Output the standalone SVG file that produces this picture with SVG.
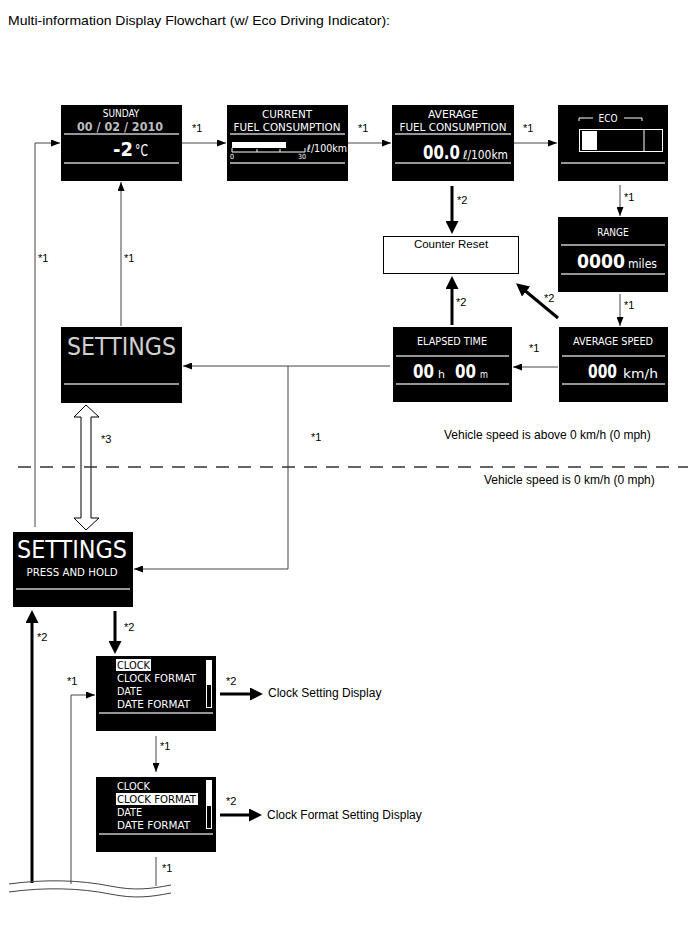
<svg xmlns="http://www.w3.org/2000/svg" width="688" height="949" viewBox="0 0 688 949">
<style>
.lbl{font-family:"Liberation Sans",Arial,sans-serif;font-size:11px;fill:#000}
.txt{font-family:"Liberation Sans",Arial,sans-serif;font-size:12px;fill:#000}
.scr{fill:#000}
.sep{stroke:#c8c8c8;stroke-width:1.5}
.lcd{font-family:"DejaVu Sans Condensed","DejaVu Sans",sans-serif;font-stretch:condensed;fill:#fff}
.thin{fill:none;stroke:#444;stroke-width:1}
.thick{fill:none;stroke:#000;stroke-width:3}
</style>
<defs>
<marker id="a" markerWidth="9" markerHeight="7" refX="9" refY="3.5" orient="auto" markerUnits="userSpaceOnUse"><path d="M0,0 L9,3.5 L0,7 z" fill="#000"/></marker>
<marker id="b" markerWidth="13" markerHeight="13" refX="4" refY="6.5" orient="auto" markerUnits="userSpaceOnUse"><path d="M0,0 L13,6.5 L0,13 z" fill="#000"/></marker>
</defs>
<rect width="688" height="949" fill="#fff"/>
<text class="txt" x="8" y="25" style="font-size:13px" textLength="382" lengthAdjust="spacingAndGlyphs">Multi-information Display Flowchart (w/ Eco Driving Indicator):</text>

<g id="screen-date">
<rect class="scr" x="61" y="105" width="121" height="76"/>
<line class="sep" x1="64" y1="134" x2="179" y2="134"/>
<line class="sep" x1="64" y1="163" x2="179" y2="163"/>
<text class="lcd" x="121" y="117" font-size="10" text-anchor="middle">SUNDAY</text>
<text class="lcd" x="77" y="131" font-size="13" font-weight="bold" style="fill:#bdbdbd" textLength="86" lengthAdjust="spacingAndGlyphs">00 / 02 / 2010</text>
<text class="lcd" x="113" y="156" font-size="20" font-weight="bold" textLength="20" lengthAdjust="spacingAndGlyphs">-2</text>
<text class="lcd" x="135" y="156" font-size="15" textLength="13" lengthAdjust="spacingAndGlyphs">°C</text>
</g>

<g id="screen-current">
<rect class="scr" x="227" y="105" width="121" height="76"/>
<line class="sep" x1="230" y1="134" x2="345" y2="134"/>
<line class="sep" x1="230" y1="163" x2="345" y2="163"/>
<text class="lcd" x="287" y="118" font-size="11" text-anchor="middle" textLength="50" lengthAdjust="spacingAndGlyphs">CURRENT</text>
<text class="lcd" x="287" y="131" font-size="11" text-anchor="middle" textLength="107" lengthAdjust="spacingAndGlyphs">FUEL CONSUMPTION</text>
<rect x="232" y="142" width="54" height="6" fill="#fff"/>
<path d="M232,148 V152 H305 M257,149 V152 M280,149 V152 M305,148 V152" stroke="#fff" stroke-width="1" fill="none"/>
<text class="lcd" x="230" y="159" font-size="7">0</text>
<text class="lcd" x="298" y="159" font-size="7">30</text>
<text class="lcd" x="307" y="152" font-size="10" textLength="40" lengthAdjust="spacingAndGlyphs">ℓ/100km</text>
</g>

<g id="screen-average-fuel">
<rect class="scr" x="392" y="105" width="122" height="76"/>
<line class="sep" x1="395" y1="134" x2="511" y2="134"/>
<line class="sep" x1="395" y1="163" x2="511" y2="163"/>
<text class="lcd" x="453" y="118" font-size="11" text-anchor="middle" textLength="50" lengthAdjust="spacingAndGlyphs">AVERAGE</text>
<text class="lcd" x="453" y="131" font-size="11" text-anchor="middle" textLength="107" lengthAdjust="spacingAndGlyphs">FUEL CONSUMPTION</text>
<text class="lcd" x="423" y="159" font-size="20" font-weight="bold" textLength="37" lengthAdjust="spacingAndGlyphs">00.0</text>
<text class="lcd" x="463" y="159" font-size="12" textLength="45" lengthAdjust="spacingAndGlyphs">ℓ/100km</text>
</g>

<g id="screen-eco">
<rect class="scr" x="558" y="105" width="110" height="76"/>
<line class="sep" x1="561" y1="163" x2="665" y2="163"/>
<path d="M579,121 V118 H593 M624,118 H642 V121" stroke="#fff" stroke-width="1" fill="none"/>
<text class="lcd" x="608" y="122" font-size="10" text-anchor="middle">ECO</text>
<rect x="579.5" y="129.5" width="83" height="22" fill="none" stroke="#fff" stroke-width="1"/>
<rect x="582" y="131" width="15" height="19" fill="#fff"/>
<line x1="644" y1="130" x2="644" y2="151" stroke="#fff" stroke-width="1"/>
</g>

<g id="screen-range">
<rect class="scr" x="558" y="217" width="110" height="75"/>
<line class="sep" x1="561" y1="245" x2="665" y2="245"/>
<line class="sep" x1="561" y1="274" x2="665" y2="274"/>
<text class="lcd" x="613" y="236" font-size="10" text-anchor="middle">RANGE</text>
<text class="lcd" x="577" y="268" font-size="20" font-weight="bold" textLength="48" lengthAdjust="spacingAndGlyphs">0000</text>
<text class="lcd" x="628" y="268" font-size="12" textLength="29" lengthAdjust="spacingAndGlyphs">miles</text>
</g>

<g id="counter-reset">
<rect x="383.5" y="236.5" width="135" height="37" fill="#fff" stroke="#000" stroke-width="1"/>
<text class="txt" x="451" y="248" text-anchor="middle" style="font-size:11.5px">Counter Reset</text>
</g>

<g id="screen-elapsed">
<rect class="scr" x="393" y="327" width="119" height="75"/>
<line class="sep" x1="396" y1="356" x2="509" y2="356"/>
<line class="sep" x1="396" y1="384" x2="509" y2="384"/>
<text class="lcd" x="452" y="345" font-size="10.5" text-anchor="middle" textLength="70" lengthAdjust="spacingAndGlyphs">ELAPSED TIME</text>
<text class="lcd" x="413" y="378" font-size="20" font-weight="bold" textLength="21" lengthAdjust="spacingAndGlyphs">00</text>
<text class="lcd" x="438" y="378" font-size="11" textLength="7" lengthAdjust="spacingAndGlyphs">h</text>
<text class="lcd" x="455" y="378" font-size="20" font-weight="bold" textLength="21" lengthAdjust="spacingAndGlyphs">00</text>
<text class="lcd" x="480" y="378" font-size="11" textLength="8" lengthAdjust="spacingAndGlyphs">m</text>
</g>

<g id="screen-average-speed">
<rect class="scr" x="559" y="327" width="109" height="75"/>
<line class="sep" x1="562" y1="356" x2="665" y2="356"/>
<line class="sep" x1="562" y1="384" x2="665" y2="384"/>
<text class="lcd" x="613" y="345" font-size="10.5" text-anchor="middle" textLength="80" lengthAdjust="spacingAndGlyphs">AVERAGE SPEED</text>
<text class="lcd" x="588" y="378" font-size="20" font-weight="bold" textLength="29" lengthAdjust="spacingAndGlyphs">000</text>
<text class="lcd" x="623" y="378" font-size="12" textLength="35" lengthAdjust="spacingAndGlyphs">km/h</text>
</g>

<g id="screen-settings">
<rect class="scr" x="61" y="327" width="121" height="76"/>
<line class="sep" x1="64" y1="384" x2="179" y2="384"/>
<text class="lcd" x="67" y="355" font-size="24" style="fill:#d0d0d0" textLength="109" lengthAdjust="spacingAndGlyphs">SETTINGS</text>
</g>

<g id="screen-settings-hold">
<rect class="scr" x="13" y="532" width="120" height="75"/>
<line class="sep" x1="16" y1="589" x2="130" y2="589"/>
<text class="lcd" x="17" y="558" font-size="24" textLength="110" lengthAdjust="spacingAndGlyphs">SETTINGS</text>
<text class="lcd" x="72" y="576" font-size="10" text-anchor="middle" textLength="91" lengthAdjust="spacingAndGlyphs">PRESS AND HOLD</text>
</g>

<g id="list-clock">
<rect class="scr" x="96" y="656" width="120" height="75"/>
<line class="sep" x1="99" y1="713" x2="213" y2="713"/>
<rect x="116.5" y="659.5" width="34" height="11" fill="#fff" stroke="#fff"/>
<text class="lcd" x="117" y="669" font-size="11" style="fill:#000" textLength="33" lengthAdjust="spacingAndGlyphs">CLOCK</text>
<text class="lcd" x="117" y="682" font-size="11" textLength="79" lengthAdjust="spacingAndGlyphs">CLOCK FORMAT</text>
<text class="lcd" x="117" y="695" font-size="11" textLength="25" lengthAdjust="spacingAndGlyphs">DATE</text>
<text class="lcd" x="117" y="708" font-size="11" textLength="73" lengthAdjust="spacingAndGlyphs">DATE FORMAT</text>
<rect x="207" y="661" width="4" height="24" fill="#fff"/>
<rect x="206.5" y="660.5" width="5" height="47" fill="none" stroke="#fff" stroke-width="1"/>
</g>

<g id="list-clock-format">
<rect class="scr" x="96" y="777" width="120" height="75"/>
<line class="sep" x1="99" y1="834" x2="213" y2="834"/>
<text class="lcd" x="117" y="790" font-size="11" textLength="33" lengthAdjust="spacingAndGlyphs">CLOCK</text>
<rect x="116.5" y="793.5" width="81" height="11" fill="#fff" stroke="#fff"/>
<text class="lcd" x="117" y="803" font-size="11" style="fill:#000" textLength="79" lengthAdjust="spacingAndGlyphs">CLOCK FORMAT</text>
<text class="lcd" x="117" y="816" font-size="11" textLength="25" lengthAdjust="spacingAndGlyphs">DATE</text>
<text class="lcd" x="117" y="829" font-size="11" textLength="73" lengthAdjust="spacingAndGlyphs">DATE FORMAT</text>
<rect x="207" y="781" width="4" height="25" fill="#fff"/>
<rect x="206.5" y="780.5" width="5" height="48" fill="none" stroke="#fff" stroke-width="1"/>
</g>

<g id="connectors">
<path class="thin" d="M182,143 H226" marker-end="url(#a)"/>
<path class="thin" d="M348,143 H391" marker-end="url(#a)"/>
<path class="thin" d="M514,143 H557" marker-end="url(#a)"/>
<path class="thin" d="M620,185 V216" marker-end="url(#a)"/>
<path class="thin" d="M620,294 V326" marker-end="url(#a)"/>
<path class="thin" d="M558,367 H513" marker-end="url(#a)"/>
<path class="thin" d="M390,366 H183" marker-end="url(#a)"/>
<path class="thin" d="M288,366 V569 H134" marker-end="url(#a)"/>
<path class="thin" d="M121,326 V182" marker-end="url(#a)"/>
<path class="thin" d="M35,527 V143 H60" marker-end="url(#a)"/>
<path class="thin" d="M71,884 V695 H95" marker-end="url(#a)"/>
<path class="thin" d="M156,736 V772" marker-end="url(#a)"/>
<path class="thin" d="M156,857 V886"/>
<path class="thick" d="M452,186 V225" marker-end="url(#b)"/>
<path class="thick" d="M452,325 V285" marker-end="url(#b)"/>
<path class="thick" d="M558,318 L523,289" marker-end="url(#b)"/>
<path class="thick" d="M32,883 V619" marker-end="url(#b)"/>
<path class="thick" d="M115,611 V645" marker-end="url(#b)"/>
<path class="thick" d="M220,694 H254" marker-end="url(#b)"/>
<path class="thick" d="M220,815 H253" marker-end="url(#b)"/>
<polygon points="86,405 99,417 91,417 91,518 99,518 86,530 74,518 81,518 81,417 74,417" fill="#fff" stroke="#000" stroke-width="1"/>
<path d="M18,467 H688" stroke="#333" stroke-width="1.5" stroke-dasharray="13 9" fill="none"/>
<path d="M9,884 C45,879 80,880 110,886 C135,891 150,889 171,885" fill="none" stroke="#444" stroke-width="1"/>
<path d="M9,892 C45,887 80,888 110,894 C135,899 150,897 171,893" fill="none" stroke="#444" stroke-width="1"/>
</g>

<g id="labels">
<text class="lbl" x="192" y="132">*1</text>
<text class="lbl" x="358" y="132">*1</text>
<text class="lbl" x="523" y="132">*1</text>
<text class="lbl" x="624" y="201">*1</text>
<text class="lbl" x="624" y="309">*1</text>
<text class="lbl" x="457" y="204">*2</text>
<text class="lbl" x="456" y="306">*2</text>
<text class="lbl" x="544" y="302">*2</text>
<text class="lbl" x="529" y="352">*1</text>
<text class="lbl" x="38" y="262">*1</text>
<text class="lbl" x="124" y="262">*1</text>
<text class="lbl" x="101" y="443">*3</text>
<text class="lbl" x="311" y="441">*1</text>
<text class="txt" x="444" y="439">Vehicle speed is above 0 km/h (0 mph)</text>
<text class="txt" x="484" y="484">Vehicle speed is 0 km/h (0 mph)</text>
<text class="lbl" x="37" y="641">*2</text>
<text class="lbl" x="124" y="631">*2</text>
<text class="lbl" x="67" y="685">*1</text>
<text class="lbl" x="226" y="685">*2</text>
<text class="txt" x="268" y="697">Clock Setting Display</text>
<text class="lbl" x="160" y="750">*1</text>
<text class="lbl" x="226" y="805">*2</text>
<text class="txt" x="267" y="819">Clock Format Setting Display</text>
<text class="lbl" x="162" y="872">*1</text>
</g>
</svg>
